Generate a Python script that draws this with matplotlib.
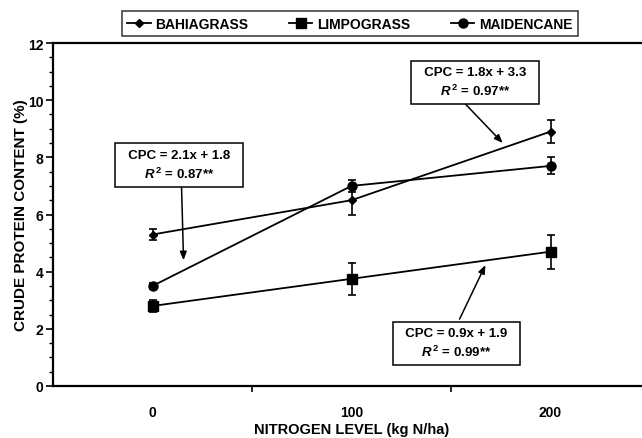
import matplotlib
matplotlib.use("Agg")
import matplotlib.pyplot as plt
from matplotlib.lines import Line2D
from matplotlib.ticker import MultipleLocator, FixedLocator, NullFormatter

# ── Data ────────────────────────────────────────────────────────────────
levels = ["0", "100", "200"]
bahia = [5.3, 6.5, 8.9]
bahia_err = [0.2, 0.5, 0.4]
limpo = [2.8, 3.75, 4.7]
limpo_err = [0.2, 0.55, 0.6]
maiden = [3.5, 7.0, 7.7]
maiden_err = [0.1, 0.2, 0.3]

plt.rcParams.update({
    "font.family": ["Liberation Sans", "DejaVu Sans"],
    "font.weight": "bold",
    "mathtext.fontset": "custom",
    "mathtext.rm": "Liberation Sans:bold",
    "mathtext.it": "Liberation Sans:italic:bold",
    "mathtext.bf": "Liberation Sans:bold",
})

fig = plt.figure(figsize=(6.42, 4.39), dpi=100)
ax = fig.add_axes([53 / 642, 52 / 439, (650 - 53) / 642, (387 - 44) / 439])

x = list(range(len(levels)))
series = [
    ("BAHIAGRASS", bahia, bahia_err, "D", 4.5),
    ("LIMPOGRASS", limpo, limpo_err, "s", 6.5),
    ("MAIDENCANE", maiden, maiden_err, "o", 6.5),
]
handles = []
for name, vals, err, mk, ms in series:
    ax.errorbar(x, vals, yerr=err, color="black", marker=mk, markersize=ms,
                linewidth=1.3, elinewidth=1.2, capsize=3, capthick=1.2, zorder=3)
    handles.append(Line2D([], [], color="black", marker=mk, markersize=ms, linewidth=1.3))

ax.set_xlim(-0.5, 2.5)
ax.set_ylim(0, 12)

# category labels at points, tick marks between categories
ax.set_xticks(x)
ax.set_xticklabels(levels, fontsize=10, fontweight="bold")
ax.tick_params(axis="x", which="major", length=0, pad=14)
ax.xaxis.set_minor_locator(FixedLocator([0.5, 1.5, 2.5]))
ax.xaxis.set_minor_formatter(NullFormatter())
ax.tick_params(axis="x", which="minor", direction="out", length=4, width=1.2)

ax.yaxis.set_major_locator(MultipleLocator(2))
ax.yaxis.set_minor_locator(MultipleLocator(0.5))
ax.tick_params(axis="y", which="major", direction="out", length=5, width=1.2,
               labelsize=10, pad=2)
ax.tick_params(axis="y", which="minor", direction="out", length=3, width=1.0)
for lab in ax.get_yticklabels():
    lab.set_fontweight("bold")

for s in ["left", "bottom", "top", "right"]:
    ax.spines[s].set_linewidth(1.6)

ax.set_xlabel("NITROGEN LEVEL (kg N/ha)", fontsize=10.5, fontweight="bold", labelpad=2)
ax.set_ylabel("CRUDE PROTEIN CONTENT (%)", fontsize=11, fontweight="bold", labelpad=0)

# ── Regression annotations ──────────────────────────────────────────────
box_kw = dict(boxstyle="square,pad=0.42", facecolor="white", edgecolor="black", linewidth=1.1)
arrow_kw = dict(arrowstyle="-|>,head_length=0.5,head_width=0.2", color="black",
                linewidth=1.1, shrinkA=0, shrinkB=0)

notes = [
    ("CPC = 1.8x + 3.3", "0.97", (1.62, 10.63), (1.573, 9.86), (1.76, 8.5)),
    ("CPC = 2.1x + 1.8", "0.87", (0.133, 7.73), (0.146, 6.96), (0.156, 4.4)),
    ("CPC = 0.9x + 1.9", "0.99", (1.528, 1.49), (1.543, 2.34), (1.673, 4.23)),
]
for eq, r2, pos, start, tip in notes:
    ax.annotate("", xy=tip, xytext=start, arrowprops=arrow_kw, zorder=4)
    ax.text(pos[0], pos[1], "  " + eq + "  \n" + r"$R^{\,\mathrm{2}}$ = " + r2 + "**",
            ha="center", va="center", multialignment="center", fontsize=9.5,
            fontweight="bold", linespacing=1.4, bbox=box_kw, zorder=5)

leg = fig.legend(handles=handles, labels=[s[0] for s in series], loc="center",
                 bbox_to_anchor=(0.545, 0.944), ncol=3, frameon=True, fancybox=False,
                 edgecolor="black", prop={"weight": "bold", "size": 10},
                 handlelength=1.7, handletextpad=0.35, columnspacing=2.9,
                 borderpad=0.4, borderaxespad=0)
leg.get_frame().set_linewidth(1.1)

fig.savefig("out.png", dpi=100, facecolor="white")
